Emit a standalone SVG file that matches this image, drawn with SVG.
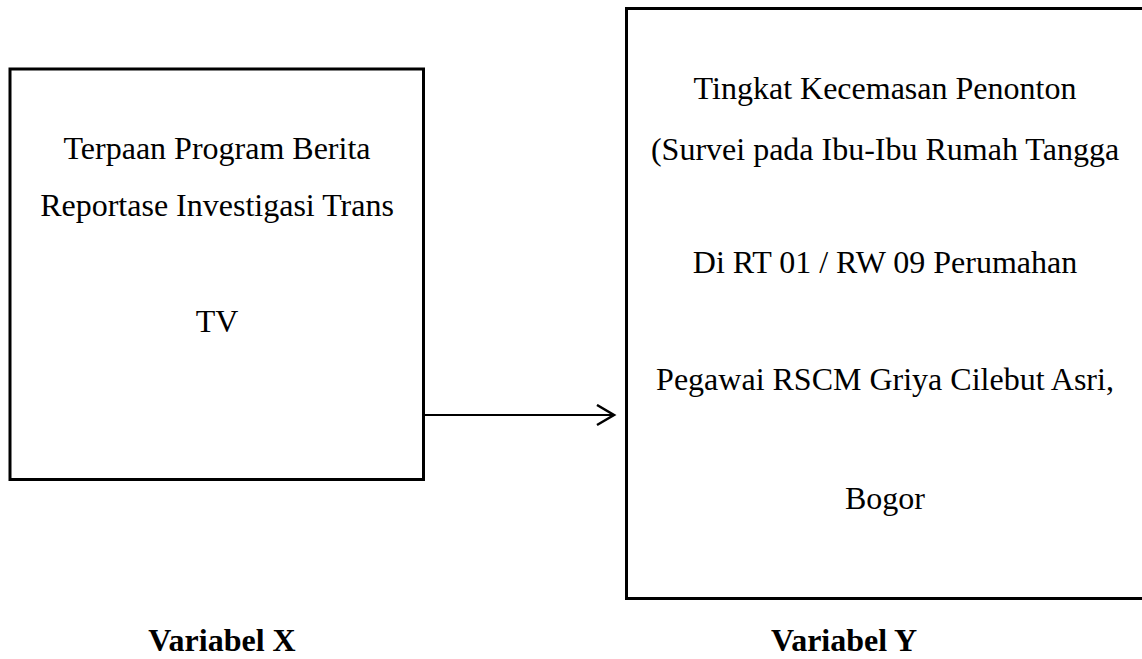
<svg xmlns="http://www.w3.org/2000/svg" width="1142" height="659" viewBox="0 0 1142 659">
<style>
.box{fill:#fff;stroke:#000;stroke-width:3}
.t{font-family:"Liberation Serif","Times New Roman",serif;font-size:32px;fill:#000;text-anchor:middle}
.b{font-weight:bold}
.conn{stroke:#000;stroke-width:2;fill:none}
</style>
<defs>
<marker id="arr" markerUnits="userSpaceOnUse" markerWidth="24" markerHeight="24" refX="18" refY="11" orient="auto">
<path d="M1,1 L18,11 L1,21" fill="none" stroke="#000" stroke-width="2.5"/>
</marker>
</defs>
<rect width="1142" height="659" fill="#fff"/>
<g id="nodeX">
<rect class="box" x="10" y="69" width="413.5" height="410.5"/>
<text class="t" x="217" y="159">Terpaan Program Berita</text>
<text class="t" x="217" y="216">Reportase Investigasi Trans</text>
<text class="t" x="217" y="332">TV</text>
</g>
<g id="nodeY">
<rect class="box" x="626.5" y="8.5" width="530" height="590"/>
<text class="t" x="885" y="99">Tingkat Kecemasan Penonton</text>
<text class="t" x="885" y="160">(Survei pada Ibu-Ibu Rumah Tangga</text>
<text class="t" x="885" y="273">Di RT 01 / RW 09 Perumahan</text>
<text class="t" x="885" y="390">Pegawai RSCM Griya Cilebut Asri,</text>
<text class="t" x="885" y="509">Bogor</text>
</g>
<g id="labelX"><text class="t b" x="222" y="651">Variabel X</text></g>
<g id="labelY"><text class="t b" x="844" y="651">Variabel Y</text></g>
<g id="connectors">
<line class="conn" x1="425" y1="415" x2="614" y2="415" marker-end="url(#arr)"/>
</g>
</svg>
